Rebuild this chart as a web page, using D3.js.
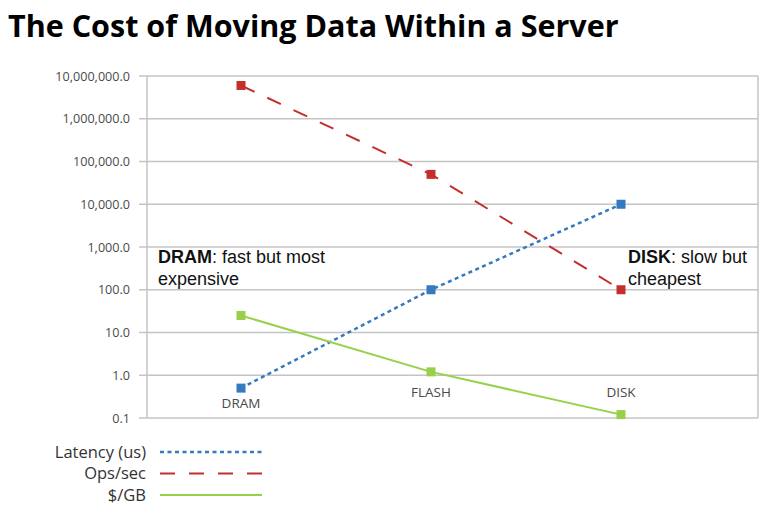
<!DOCTYPE html>
<html>
<head>
<meta charset="utf-8">
<script src="https://cdn.jsdelivr.net/npm/d3@7"></script>
<style>
  body { margin: 0; background: #fff; }
  svg { display: block; }
</style>
</head>
<body>
<svg id="chart" width="772" height="527"></svg>
<script>
// categories and series
const categories = ['DRAM', 'FLASH', 'DISK'];
const latency = [0.5, 100, 10000];
const opsPerSec = [6000000, 50000, 100];
const dollarsPerGB = [25, 1.2, 0.12];
const yTicks = [0.1, 1, 10, 100, 1000, 10000, 100000, 1000000, 10000000];

const series = [
    { name: 'Latency (us)', values: latency, color: '#3579c0', dash: '4,3.5', width: 2.5 },
    { name: 'Ops/sec', values: opsPerSec, color: '#c3302c', dash: '15,14', width: 2 },
    { name: '$/GB', values: dollarsPerGB, color: '#98d04a', dash: null, width: 2 }
];

let svg = d3.select('#chart');

//Title
svg.append('text')
    .attr('x', 8)
    .attr('y', 37)
    .attr('font-family', 'Open Sans, sans-serif')
    .attr('font-weight', 700)
    .attr('font-size', 30.5)
    .attr('fill', '#000')
    .text('The Cost of Moving Data Within a Server');

let plot = { left: 147, right: 758, top: 76, bottom: 418 };

let y = d3.scaleLog()
    .domain([0.1, 10000000])
    .range([plot.bottom, plot.top]);

let x = d3.scalePoint()
    .domain(categories)
    .range([241, 621]);

//Gridlines
svg.append('g')
    .selectAll('line')
    .data(yTicks)
    .enter()
    .append('line')
    .attr('x1', plot.left - 8)
    .attr('x2', plot.right)
    .attr('y1', d => y(d))
    .attr('y2', d => y(d))
    .attr('stroke', '#c4c4c4')
    .attr('stroke-width', 1.5);

svg.append('line')
    .attr('x1', plot.left).attr('x2', plot.left)
    .attr('y1', plot.top).attr('y2', plot.bottom)
    .attr('stroke', '#c4c4c4').attr('stroke-width', 1.5);

svg.append('line')
    .attr('x1', plot.right).attr('x2', plot.right)
    .attr('y1', plot.top).attr('y2', plot.bottom)
    .attr('stroke', '#c4c4c4').attr('stroke-width', 1.5);

//Y tick labels
let fmt = d3.format(',.1f');
svg.append('g')
    .selectAll('text')
    .data(yTicks)
    .enter()
    .append('text')
    .attr('x', 130)
    .attr('y', d => y(d) + 4.5)
    .attr('text-anchor', 'end')
    .attr('font-family', 'Open Sans, sans-serif')
    .attr('font-size', 12.6)
    .attr('fill', '#4a4a4a')
    .text(d => fmt(d));

//Category labels
svg.append('g')
    .selectAll('text')
    .data(categories)
    .enter()
    .append('text')
    .attr('x', d => x(d))
    .attr('y', (d, i) => i === 0 ? 408 : 397)
    .attr('text-anchor', 'middle')
    .attr('font-family', 'Open Sans, sans-serif')
    .attr('font-size', 13.5)
    .attr('fill', '#4a4a4a')
    .text(d => d);

//Series lines and markers
let line = d3.line()
    .x((d, i) => x(categories[i]))
    .y(d => y(d));

series.forEach(s => {
    svg.append('path')
        .datum(s.values)
        .attr('d', line)
        .attr('fill', 'none')
        .attr('stroke', s.color)
        .attr('stroke-width', s.width)
        .attr('stroke-dasharray', s.dash);

    svg.append('g')
        .selectAll('rect')
        .data(s.values)
        .enter()
        .append('rect')
        .attr('x', (d, i) => x(categories[i]) - 4.5)
        .attr('y', d => y(d) - 4.5)
        .attr('width', 9)
        .attr('height', 9)
        .attr('fill', s.color);
});

//Annotations
function note(xPos, bold, rest, second) {
    let t = svg.append('text')
        .attr('x', xPos)
        .attr('y', 263)
        .attr('font-family', 'Liberation Sans, Arial, sans-serif')
        .attr('font-size', 18)
        .attr('fill', '#111');
    t.append('tspan').attr('font-weight', 700).text(bold);
    t.append('tspan').text(rest);
    svg.append('text')
        .attr('x', xPos)
        .attr('y', 285)
        .attr('font-family', 'Liberation Sans, Arial, sans-serif')
        .attr('font-size', 18)
        .attr('fill', '#111')
        .text(second);
}
note(158, 'DRAM', ': fast but most', 'expensive');
note(628, 'DISK', ': slow but', 'cheapest');

//Legend
let legend = svg.append('g')
    .selectAll('g')
    .data(series)
    .enter()
    .append('g')
    .attr('transform', (d, i) => 'translate(0,' + (452 + i * 21.5) + ')');

legend.append('text')
    .attr('x', 146)
    .attr('y', 5.5)
    .attr('text-anchor', 'end')
    .attr('font-family', 'Open Sans, sans-serif')
    .attr('font-size', 16.5)
    .attr('fill', '#333')
    .text(d => d.name);

legend.append('line')
    .attr('x1', 160)
    .attr('x2', 262)
    .attr('y1', 0)
    .attr('y2', 0)
    .attr('stroke', d => d.color)
    .attr('stroke-width', d => d.width)
    .attr('stroke-dasharray', d => d.dash);
</script>
</body>
</html>
